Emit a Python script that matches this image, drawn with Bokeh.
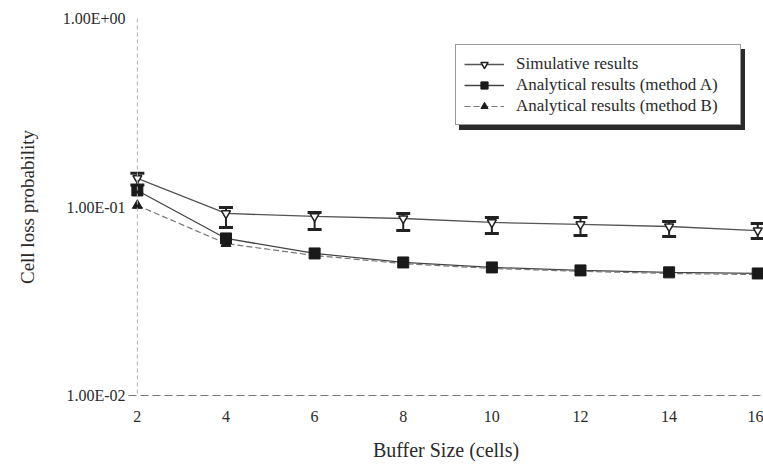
from bokeh.plotting import figure
from bokeh.models import (FixedTicker, CustomJSTickFormatter, Span, Whisker, TeeHead,
                          ColumnDataSource, Legend, LegendItem, Range1d)
from bokeh.embed import file_html
from bokeh.resources import INLINE

# ---- data ----
buffer_size = [2, 4, 6, 8, 10, 12, 14, 16]
simulative = [0.142, 0.0924, 0.0891, 0.0869, 0.0828, 0.0808, 0.0788, 0.0750]
sim_upper = [0.151, 0.0994, 0.0935, 0.0924, 0.0880, 0.0880, 0.0838, 0.0817]
sim_lower = [0.131, 0.0779, 0.0760, 0.0750, 0.0723, 0.0706, 0.0697, 0.0681]
method_a = [0.1224, 0.0681, 0.0567, 0.0508, 0.0478, 0.0461, 0.0450, 0.0444]
method_b = [0.1019, 0.0640, 0.0553, 0.0501, 0.0472, 0.0456, 0.0444, 0.0438]
x_ticks = [2, 4, 6, 8, 10, 12, 14, 16]
y_ticks = [0.01, 0.1, 1.0]
series_names = ["Simulative results", "Analytical results (method A)",
                "Analytical results (method B)"]
x_label = "Buffer Size (cells)"
y_label = "Cell loss probability"

FONT = "Liberation Serif"
TXT = "#2a2a2a"

p = figure(width=763, height=468, y_axis_type="log",
           x_range=Range1d(1.8, 16.13), y_range=Range1d(0.01, 1.0),
           output_backend="svg", toolbar_location=None,
           min_border_left=128, min_border_right=0, min_border_top=18,
           min_border_bottom=73)
p.outline_line_color = None
p.background_fill_color = "white"

# axes
p.xaxis.ticker = FixedTicker(ticks=x_ticks)
p.yaxis.ticker = FixedTicker(ticks=y_ticks)
p.yaxis.formatter = CustomJSTickFormatter(code="""
const e = Math.round(Math.log10(tick));
const a = Math.abs(e);
return '1.00E' + (e < 0 ? '-' : '+') + (a < 10 ? '0' : '') + a;
""")
for ax in (p.xaxis[0], p.yaxis[0]):
    ax.major_label_text_font = FONT
    ax.major_label_text_color = TXT
    ax.axis_label_text_font = FONT
    ax.axis_label_text_font_style = "normal"
    ax.axis_label_text_color = TXT
    ax.minor_tick_line_color = None
    ax.major_tick_line_color = None
    ax.major_tick_out = 0
    ax.major_tick_in = 0
p.xaxis.major_label_text_font_size = "16px"
p.yaxis.major_label_text_font_size = "16px"
p.xaxis.axis_label = x_label
p.xaxis.axis_label_text_font_size = "20px"
p.xaxis.major_label_standoff = 15
p.xaxis.axis_label_standoff = 14
p.xaxis.axis_line_color = "#777777"
p.xaxis.axis_line_dash = "8 4"
p.yaxis.axis_label = y_label
p.yaxis.axis_label_text_font_size = "19px"
p.yaxis.major_label_standoff = 3
p.yaxis.axis_label_standoff = 22
p.yaxis.axis_line_color = None

p.xgrid.grid_line_color = None
p.ygrid.ticker = FixedTicker(ticks=[1.0])
p.ygrid.grid_line_color = "#9a9a9a"
p.ygrid.grid_line_dash = "10 40"

# y axis line at x=2
p.add_layout(Span(location=2, dimension="height", line_color="#b0b0b0",
                  line_dash="4 3", line_width=1))

src = ColumnDataSource(dict(x=buffer_size, sim=simulative, up=sim_upper, lo=sim_lower,
                            a=method_a, b=method_b))

l_sim = p.line("x", "sim", source=src, line_color="#555555", line_width=1.3)
l_a = p.line("x", "a", source=src, line_color="#444444", line_width=1.3)
l_b = p.line("x", "b", source=src, line_color="#777777", line_width=1.2, line_dash="6 3")

wh = Whisker(source=src, base="x", upper="up", lower="lo",
             line_color="#222222", line_width=2,
             upper_head=TeeHead(size=14, line_width=3, line_color="#222222"),
             lower_head=TeeHead(size=14, line_width=3, line_color="#222222"))
p.add_layout(wh)

m_sim = p.scatter("x", "sim", source=src, marker="inverted_triangle", size=9,
                  fill_color="white", line_color="#222222", line_width=1.5)
m_a = p.scatter("x", "a", source=src, marker="square", size=11,
                fill_color="#1a1a1a", line_color="#1a1a1a")
m_b = p.scatter("x", "b", source=src, marker="triangle", size=10,
                fill_color="#1a1a1a", line_color="#1a1a1a")

# invisible renderer used only for the legend's drop shadow
ghost = p.line(x=[], y=[], line_alpha=0)


def style_legend(lg):
    lg.label_text_font = FONT
    lg.label_text_font_size = "17px"
    lg.label_height = 21
    lg.label_width = 216
    lg.glyph_height = 18
    lg.glyph_width = 40
    lg.label_standoff = 12
    lg.spacing = 0
    lg.padding = 8
    lg.margin = 0


shadow = Legend(items=[LegendItem(label=" ", renderers=[ghost]) for _ in series_names],
                location=(331, 265))
style_legend(shadow)
shadow.label_text_alpha = 0
shadow.background_fill_color = "#2a2a2a"
shadow.background_fill_alpha = 1.0
shadow.border_line_color = "#2a2a2a"
p.add_layout(shadow, "center")

legend = Legend(items=[
    LegendItem(label=series_names[0], renderers=[l_sim, m_sim]),
    LegendItem(label=series_names[1], renderers=[l_a, m_a]),
    LegendItem(label=series_names[2], renderers=[l_b, m_b]),
], location=(327, 270))
style_legend(legend)
legend.label_text_color = TXT
legend.border_line_color = "#333333"
legend.border_line_width = 1
legend.background_fill_color = "white"
legend.background_fill_alpha = 1.0
p.add_layout(legend, "center")

open("out.html", "w").write(file_html(p, INLINE))
